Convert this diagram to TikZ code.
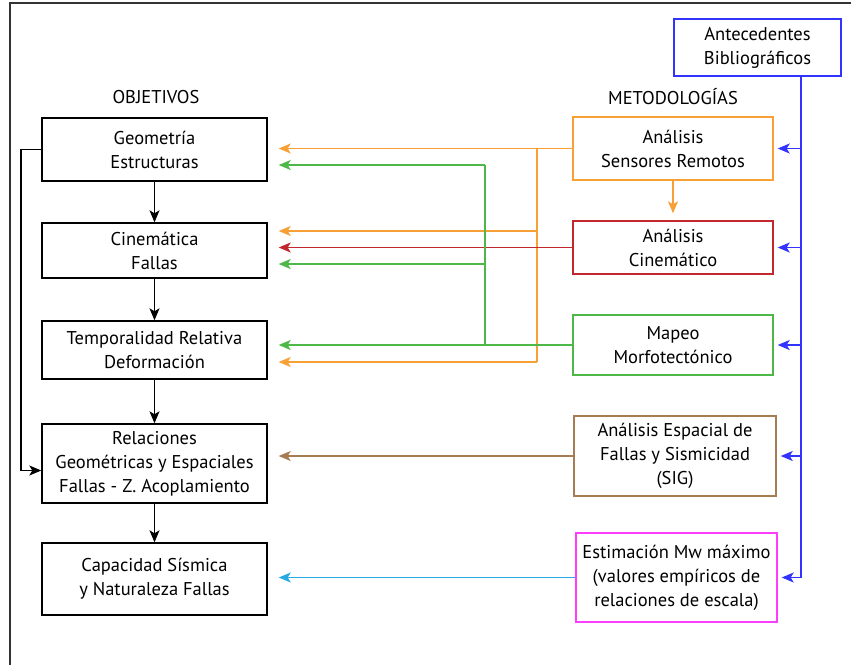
\documentclass[tikz,border=0pt]{standalone}
\usepackage{fontspec}
\setmainfont{PT Sans}
\usepackage{tikz}
\usetikzlibrary{arrows.meta, positioning}
\definecolor{naranja}{HTML}{F7A035}
\definecolor{verde}{HTML}{4DB848}
\definecolor{rojo}{HTML}{C1272D}
\definecolor{azul}{HTML}{3333FF}
\definecolor{cafe}{HTML}{A67C52}
\definecolor{celeste}{HTML}{29ABE2}
\definecolor{magenta2}{HTML}{FF3DFF}

\begin{document}
\begin{tikzpicture}[
    x=1pt, y=-1pt,
    every node/.style = {font=\fontsize{18.5}{24}\selectfont},
    obj/.style = {rectangle, draw, line width=1.4pt, align=center, minimum width=225pt, inner sep=0pt},
    met/.style = {rectangle, draw, line width=1.4pt, align=center, minimum width=200pt, inner sep=0pt},
    arrow/.style = {line width=1.3pt, -{Stealth[length=12pt, width=10pt, inset=3pt]}},
    line/.style = {line width=1.3pt}
]
    \useasboundingbox (0,0) rectangle (851,665);
    % frame
    \draw[line width=1.4pt, black!80] (10,665) -- (10,3) -- (851,3);

    % titles
    \node (tobj) at (156,97) {OBJETIVOS};
    \node (tmet) at (673,97) {METODOLOGÍAS};

    % Objetivos
    \node[obj, minimum height=63pt] (geo) at (154.5,149.5) {Geometría\\Estructuras};
    \node[obj, minimum height=55pt] (cin) at (154.5,250.5) {Cinemática\\Fallas};
    \node[obj, minimum height=58pt] (tem) at (154.5,350) {Temporalidad Relativa\\Deformación};
    \node[obj, minimum height=79pt] (rel) at (154.5,463.5) {Relaciones\\Geométricas y Espaciales\\Fallas - Z. Acoplamiento};
    \node[obj, minimum height=72pt] (cap) at (154.5,579) {Capacidad Sísmica\\y Naturaleza Fallas};

    % Metodologias
    \node[rectangle, draw=azul, line width=1.4pt, align=center, minimum width=167pt, minimum height=57pt, inner sep=0pt] (ant) at (757.5,47.5) {Antecedentes\\Bibliográficos};
    \node[met, draw=naranja, minimum height=63pt] (sen) at (673,148.5) {Análisis\\Sensores Remotos};
    \node[met, draw=rojo, minimum height=53pt] (acin) at (673,247.5) {Análisis\\Cinemático};
    \node[met, draw=verde, minimum height=60pt] (map) at (673,345) {Mapeo\\Morfotectónico};
    \node[met, draw=cafe, minimum width=202pt, minimum height=80pt] (sig) at (675,456) {Análisis Espacial de\\Fallas y Sismicidad\\(SIG)};
    \node[met, draw=magenta2, minimum width=201pt, minimum height=89pt] (mw) at (676.5,577.5) {Estimación Mw máximo\\(valores empíricos de\\relaciones de escala)};

    % objetivos chain
    \draw[arrow] (geo) -- (cin);
    \draw[arrow] (cin) -- (tem);
    \draw[arrow] (tem) -- (rel);
    \draw[arrow] (rel) -- (cap);
    \coordinate (fb) at (21,0);
    \draw[arrow] (geo.west) -- (geo.west -| fb) |- ([yshift=-7pt]rel.west);

    % sensores remotos
    \coordinate (o1) at (537,148.5);
    \coordinate (o2) at (537,231);
    \coordinate (o3) at (537,362);
    \draw[arrow, naranja, shorten >=11pt] (sen.west) -- (geo.east |- sen.west);
    \draw[line, naranja] (o1) -- (o3);
    \draw[arrow, naranja, shorten >=11pt] (o2) -- (cin.east |- o2);
    \draw[arrow, naranja, shorten >=11pt] (o3) -- (tem.east |- o3);
    \draw[arrow, naranja, shorten >=7pt] (sen) -- (acin);

    % cinematico
    \draw[arrow, rojo, shorten >=11pt] (acin.west) -- (cin.east |- acin.west);

    % morfotectonico
    \coordinate (g1) at (485,165);
    \coordinate (g2) at (485,264);
    \coordinate (g3) at (485,345);
    \draw[arrow, verde, shorten >=11pt] (map.west) -- (tem.east |- map.west);
    \draw[line, verde] (g3) -- (g1);
    \draw[arrow, verde, shorten >=11pt] (g1) -- (geo.east |- g1);
    \draw[arrow, verde, shorten >=11pt] (g2) -- (cin.east |- g2);

    % SIG y Mw
    \draw[arrow, cafe, shorten >=11pt] (sig.west) -- (rel.east |- sig.west);
    \draw[arrow, celeste, shorten >=11pt] (mw.west) -- (cap.east |- mw.west);

    % antecedentes
    \coordinate (bus) at (801,0);
    \draw[line, azul] (ant.south -| bus) -- (bus |- mw.east);
    \foreach \n in {sen, acin, map, sig, mw}
        \draw[arrow, azul, shorten >=4pt] (bus |- \n.east) -- (\n.east);
\end{tikzpicture}
\end{document}
